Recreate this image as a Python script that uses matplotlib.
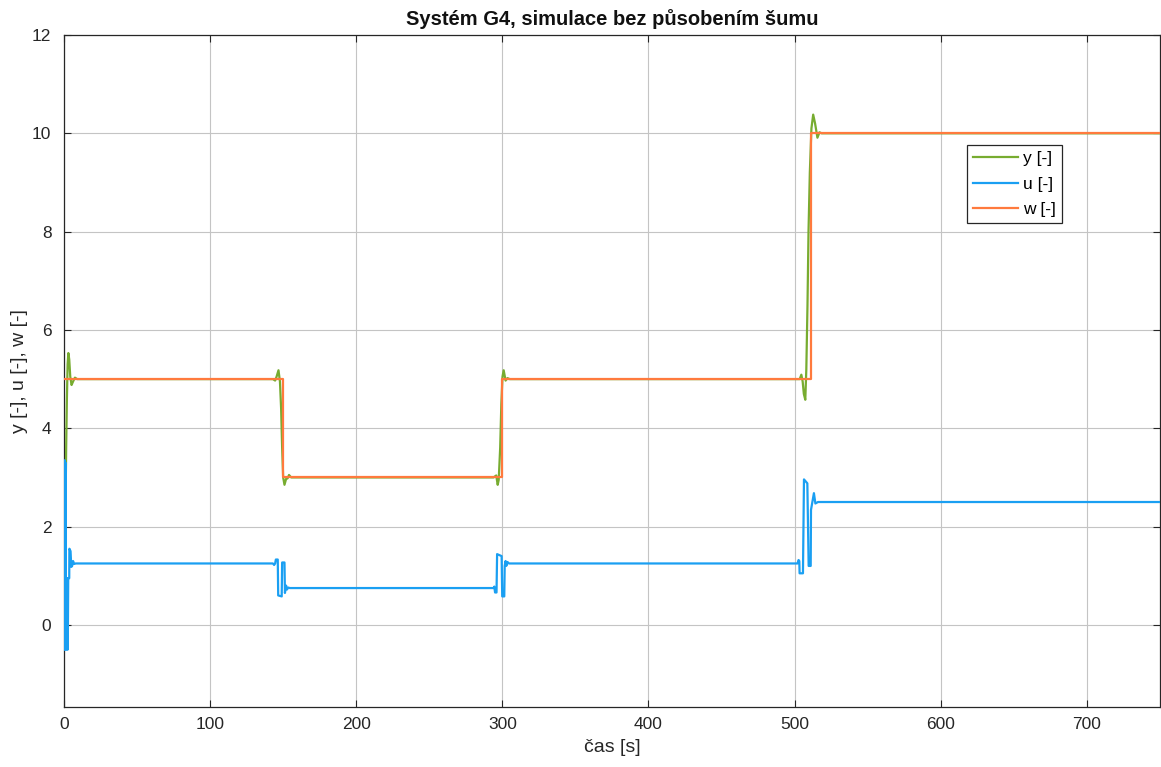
import matplotlib.pyplot as plt

plt.rcParams['font.family'] = ['Liberation Sans', 'DejaVu Sans']

# reference signal w
t_w = [0, 150, 150, 300, 300, 511, 511, 750]
w = [5, 5, 3, 3, 5, 5, 10, 10]

# plant output y
t_y = [0, 0.5, 1.0, 1.5, 2.0, 2.5, 3.0, 3.6, 4.3, 5.2, 6.2, 7.5, 9,
       143, 144.5, 145.5, 146.8, 147.8, 148.6, 149.3, 150.0, 150.9, 152, 153, 154, 155.5,
       294, 295.8, 296.8, 297.5, 298.5, 299.3, 300.1, 300.9, 302.2, 303.5, 305,
       502, 503.5, 504.6, 505.5, 506.3, 507.3, 508, 508.8, 509.5, 510.4, 511.5,
       512.7, 514, 515.6, 517, 518.5, 750]
y = [0, 0.8, 2.2, 3.6, 4.6, 5.3, 5.53, 5.4, 5.05, 4.88, 4.95, 5.03, 5.0,
     5.0, 4.97, 5.05, 5.18, 4.95, 4.4, 3.6, 3.0, 2.85, 2.97, 2.98, 3.05, 3.0,
     3.0, 3.04, 2.85, 2.95, 3.6, 4.5, 5.05, 5.18, 4.97, 5.02, 5.0,
     5.0, 5.0, 5.09, 4.95, 4.7, 4.58, 5.2, 6.5, 8.0, 9.2, 10.1,
     10.38, 10.2, 9.91, 10.02, 10.0, 10.0]

# controller output u
t_u = [0, 0.4, 0.8, 1.1, 1.4, 1.7, 2.0, 2.3, 2.6, 2.9, 3.6, 3.7, 4.5, 5.0, 5.6, 6.2, 7, 8,
       143, 143.8, 144.5, 145, 146.3, 146.6, 149.0, 149.3, 150.9, 151.2, 152, 152.6, 153.5, 154.5,
       294, 294.5, 295, 296, 296.4, 299.5, 299.9, 301.3, 301.6, 302.2, 302.7, 303.5, 304.5,
       502, 502.7, 503.2, 503.4, 505.7, 506.4, 508.7, 509.6, 511, 511.2, 513.2, 514.2, 516, 750]
u = [-0.5, 3.35, -0.5, 3.3, -0.5, 0.95, -0.5, 0.95, -0.5, 0.95, 0.95, 1.55, 1.5, 1.18, 1.2, 1.3, 1.24, 1.25,
     1.25, 1.22, 1.25, 1.33, 1.33, 0.6, 0.58, 1.27, 1.27, 0.65, 0.8, 0.72, 0.76, 0.75,
     0.75, 0.78, 0.66, 0.66, 1.44, 1.4, 0.58, 0.58, 1.2, 1.3, 1.2, 1.28, 1.25,
     1.25, 1.32, 1.3, 1.05, 1.05, 2.96, 2.88, 1.2, 1.2, 2.34, 2.68, 2.47, 2.5, 2.5]

fig = plt.figure(figsize=(11.61, 7.67), dpi=100)
ax = fig.add_axes([0.0551, 0.0782, 0.9440, 0.8762])

ax.plot(t_y, y, color='#77AC30', lw=1.6, label='y [-]', zorder=3)
ax.plot(t_u, u, color='#1A9FF2', lw=1.6, label='u [-]', zorder=3)
ax.plot(t_w, w, color='#FF7A3D', lw=1.6, label='w [-]', zorder=3)

ax.set_xlim(0, 750)
ax.set_ylim(-1.67, 12)
ax.set_xticks(range(0, 701, 100))
ax.set_yticks(range(0, 13, 2))
ax.grid(True, color='#c4c4c4', lw=0.8)
ax.tick_params(direction='in', top=True, right=True, labelsize=12.5,
               colors='#262626', length=5, pad=7)
ax.tick_params(axis='y', pad=9)
for s in ax.spines.values():
    s.set_color('#262626')
    s.set_linewidth(0.9)

ax.set_title('Systém G4, simulace bez působením šumu', fontsize=14.5, fontweight='bold',
             color='#111111', pad=7)
ax.set_xlabel('čas [s]', fontsize=14, color='#262626', labelpad=5)
ax.set_ylabel('y [-], u [-], w [-]', fontsize=14, color='#262626', labelpad=3)

leg = ax.legend(loc='upper left', bbox_to_anchor=(0.824, 0.836), borderaxespad=0,
                fancybox=False, framealpha=1, edgecolor='#262626', fontsize=12.5,
                handlelength=2.6, handletextpad=0.3, labelspacing=0.58,
                borderpad=0.35)
leg.get_frame().set_linewidth(0.9)

fig.savefig('out.png', dpi=100)
